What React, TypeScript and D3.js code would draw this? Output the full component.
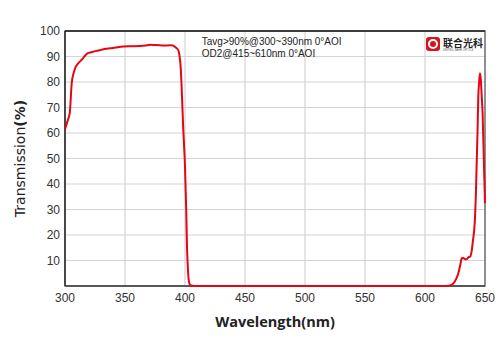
import * as d3 from 'd3'

const WAVELENGTH = [300, 301, 302.8, 304, 305.6, 307.5, 309, 311, 313, 315, 317, 319, 322, 326, 330, 334, 337.5, 342, 348.6, 355, 362.5, 367, 371, 375, 379, 383, 387.5, 390, 392, 394.4, 395.5, 396.5, 397.2, 398.5, 400, 401, 401.7, 402.5, 403.2, 404, 405, 406, 410, 450, 500, 550, 600, 615, 620, 622, 624, 626, 627.8, 629.5, 630.6, 632, 633.5, 634.7, 636, 637.5, 639, 640, 641, 641.7, 642.4, 643, 643.8, 644.4, 645.1, 645.8, 646.5, 647.2, 648, 649, 650]
const TRANSMISSION = [61.5, 63, 65.7, 68, 79.5, 84, 86, 87.3, 88.3, 89.3, 90.5, 91.3, 91.7, 92.2, 92.6, 93, 93.2, 93.5, 93.9, 94, 94.1, 94.3, 94.6, 94.5, 94.4, 94.3, 94.4, 94.3, 93.6, 92.5, 90, 85, 78, 62, 46.8, 30, 15, 6, 2, 0.6, 0.2, 0.1, 0, 0, 0, 0, 0, 0, 0.1, 0.4, 1.2, 2.8, 5, 8.5, 10.9, 11, 10.5, 10.5, 11.2, 11.5, 14, 18, 22, 27, 36, 47, 61, 74, 80, 83.4, 81, 75, 67.8, 50, 32.5]

const X_TICKS = [300, 350, 400, 450, 500, 550, 600, 650]
const Y_TICKS = [10, 20, 30, 40, 50, 60, 70, 80, 90, 100]
const NOTES = ['Tavg>90%@300~390nm 0°AOI', 'OD2@415~610nm 0°AOI']

const W = 500
const H = 353
const M = { top: 31, right: 15, bottom: 67, left: 65 }

export default function App() {
  const iw = W - M.left - M.right
  const ih = H - M.top - M.bottom
  const x = d3.scaleLinear().domain([300, 650]).range([0, iw])
  const y = d3.scaleLinear().domain([0, 100]).range([ih, 0])
  const pts = WAVELENGTH.map((w, i) => [w, TRANSMISSION[i]] as [number, number])
  const line = d3.line<[number, number]>()
    .x(d => x(d[0]))
    .y(d => y(d[1]))
    .curve(d3.curveMonotoneX)

  const tickFont = 'Liberation Sans, Arial, sans-serif'

  return (
    <svg width={W} height={H} style={{ position: 'absolute', left: 0, top: 0, background: '#fff' }}>
      <g transform={`translate(${M.left},${M.top})`}>
        {X_TICKS.slice(1, -1).map(t => (
          <line key={'gx' + t} x1={x(t)} x2={x(t)} y1={0} y2={ih} stroke="#d4d4d4" strokeWidth={1.2} />
        ))}
        {Y_TICKS.slice(0, -1).map(t => (
          <line key={'gy' + t} x1={0} x2={iw} y1={y(t)} y2={y(t)} stroke="#d4d4d4" strokeWidth={1.2} />
        ))}
        <rect x={0} y={0} width={iw} height={ih} fill="none" stroke="#555" strokeWidth={1.3} />
        <line x1={0} x2={iw} y1={0} y2={0} stroke="#222" strokeWidth={1.3} />
        <line x1={0} x2={0} y1={0} y2={ih} stroke="#222" strokeWidth={1.3} />
        <line x1={0} x2={iw} y1={ih} y2={ih} stroke="#444" strokeWidth={1.5} />

        <path d={line(pts) ?? ''} fill="none" stroke="#e30613" strokeWidth={2} strokeLinejoin="round" />

        {Y_TICKS.map(t => (
          <text key={'ty' + t} x={-5} y={y(t)} dy="0.35em" textAnchor="end"
            fontFamily={tickFont} fontSize={12} fill="#333">{t}</text>
        ))}
        {X_TICKS.map(t => (
          <text key={'tx' + t} x={x(t)} y={ih + 16} textAnchor="middle"
            fontFamily={tickFont} fontSize={12} fill="#333">{t}</text>
        ))}

        {NOTES.map((n, i) => (
          <text key={n} x={x(414)} y={14 + i * 12} fontFamily={tickFont} fontSize={10} fill="#222">{n}</text>
        ))}

        {/* logo */}
        <g transform={`translate(${iw - 59},6)`}>
          <rect x={0} y={0} width={14} height={14} rx={3} fill="#d7141e" />
          <circle cx={7} cy={7} r={4} fill="none" stroke="#fff" strokeWidth={2} />
          <text x={17} y={9.5} fontFamily="Noto Sans CJK SC" fontWeight={700} fontSize={10} fill="#222">联合光科</text>
          <text x={17} y={14} fontFamily={tickFont} fontSize={2.8} fill="#555">UNITED JIAHE OPTICS</text>
        </g>
      </g>

      <text transform={`translate(25,${M.top + ih / 2}) rotate(-90)`} textAnchor="middle"
        fontFamily="DejaVu Sans, sans-serif" fontSize={14} fill="#222">
        Transmission<tspan fontWeight={700}>(%)</tspan>
      </text>
      <text x={275} y={327} textAnchor="middle" fontFamily="Open Sans, sans-serif"
        fontWeight={700} fontSize={14.5} fill="#222">Wavelength(nm)</text>
    </svg>
  )
}
